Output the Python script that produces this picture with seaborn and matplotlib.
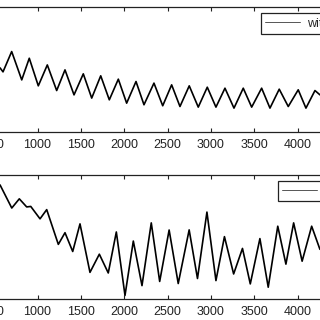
import numpy as np
import pandas as pd
import matplotlib
matplotlib.use("Agg")
import matplotlib.pyplot as plt
import seaborn as sns

# top panel: peaks / troughs
top_x = [568, 602, 702, 818, 905, 1009, 1113, 1221, 1317, 1421, 1528, 1625,
         1729, 1828, 1932, 2028, 2136, 2228, 2343, 2444, 2547, 2643, 2750,
         2854, 2958, 3058, 3162, 3266, 3373, 3470, 3585, 3681, 3788, 3892,
         4007, 4096, 4200, 4258]
top_y = [0.508, 0.476, 0.640, 0.411, 0.586, 0.363, 0.532, 0.325, 0.492, 0.290,
         0.460, 0.264, 0.444, 0.250, 0.417, 0.223, 0.398, 0.210, 0.385, 0.202,
         0.371, 0.196, 0.363, 0.191, 0.352, 0.191, 0.344, 0.183, 0.344, 0.191,
         0.344, 0.183, 0.336, 0.196, 0.331, 0.183, 0.325, 0.290]

# bottom panel
bot_x = [568, 703, 790, 875, 922, 1029, 1106, 1240, 1317, 1406, 1490, 1605,
         1713, 1816, 1909, 2009, 2105, 2205, 2312, 2409, 2518, 2623, 2749,
         2845, 2954, 3058, 3156, 3262, 3364, 3454, 3565, 3661, 3771, 3865,
         3954, 4052, 4162, 4257]
bot_y = [0.919, 0.731, 0.806, 0.740, 0.744, 0.643, 0.718, 0.435, 0.530, 0.377,
         0.602, 0.207, 0.355, 0.202, 0.536, 0.019, 0.462, 0.099, 0.610, 0.133,
         0.552, 0.116, 0.553, 0.157, 0.698, 0.140, 0.498, 0.194, 0.402, 0.113,
         0.482, 0.086, 0.583, 0.274, 0.610, 0.298, 0.583, 0.395]

labels = ["with control", "without control"]
xticks = [500, 1000, 1500, 2000, 2500, 3000, 3500, 4000, 4500]

sns.set_style("ticks")
plt.rcParams['font.family'] = ['Liberation Sans', 'DejaVu Sans']

fig = plt.figure(figsize=(3.2, 3.2), dpi=100)
ax1 = fig.add_axes([-0.1537, 0.5875, 1.3547, 0.3906])
ax2 = fig.add_axes([-0.1537, 0.0656, 1.3547, 0.3875])

panels = [(ax1, top_x, top_y, labels[0], (0.8156, 0.958)),
          (ax2, bot_x, bot_y, labels[1], (0.8688, 0.4353))]

for ax, xs, ys, lab, anchor in panels:
    df = pd.DataFrame({'t': xs, 'v': ys})
    sns.lineplot(data=df, x='t', y='v', ax=ax, color='black', linewidth=1.2,
                 label=lab)
    ax.lines[0].set_solid_joinstyle('round')
    ax.set_xlim(0, 5000)
    ax.set_ylim(-0.01, 1.0)
    ax.set_xticks(xticks)
    ax.set_yticks([])
    ax.set_xlabel('')
    ax.set_ylabel('')
    ax.tick_params(axis='x', direction='in', top=True, length=3, width=0.8,
                   labelsize=9, pad=5, colors='#222222')
    for s in ax.spines.values():
        s.set_visible(True)
        s.set_linewidth(0.9)
        s.set_color('#222222')
    leg = ax.legend(loc='upper left', bbox_to_anchor=anchor,
                    bbox_transform=fig.transFigure, borderaxespad=0,
                    fontsize=9, frameon=True, fancybox=False, framealpha=1,
                    edgecolor='#222222', borderpad=0.35, handlelength=2.75,
                    handletextpad=0.55)
    leg.get_frame().set_linewidth(0.9)
    for h in leg.get_lines():
        h.set_linewidth(0.7)
        h.set_color('#555555')

fig.savefig('out.png', dpi=100)
